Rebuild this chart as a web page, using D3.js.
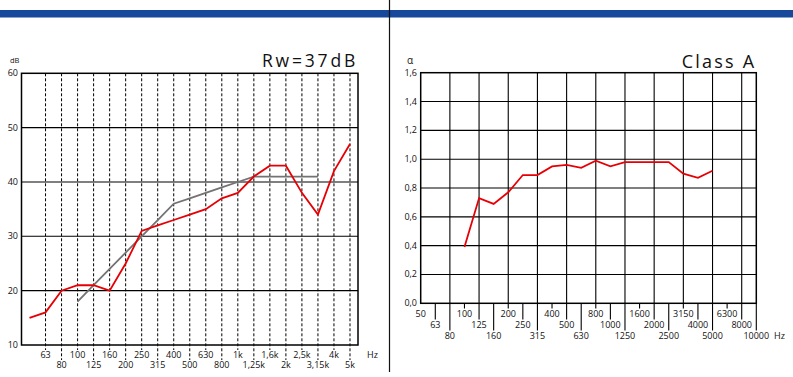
<!DOCTYPE html>
<html lang="en">
<head>
  <meta charset="UTF-8">
  <title>Rw / alpha</title>
  <script src="https://d3js.org/d3.v7.min.js"></script>
  <style>
    * { margin: 0; padding: 0; box-sizing: border-box; }
    body { background: #fff; font-family: "Open Sans", Arial, sans-serif; }
    svg text { fill: #111; }
  </style>
</head>
<body>
  <div id="chart"></div>

  <script>
    // sound insulation (left)
    const rwFreqs = ["50","63","80","100","125","160","200","250","315","400","500","630","800","1k","1,25k","1,6k","2k","2,5k","3,15k","4k","5k"];
    const rwMeasured = [15,16,20,21,21,20,25,31,32,33,34,35,37,38,41,43,43,38,34,42,47];
    const refFreqs = ["100","125","160","200","250","315","400","500","630","800","1k","1,25k","1,6k","2k","2,5k","3,15k"];
    const refValues = [18,21,24,27,30,33,36,37,38,39,40,41,41,41,41,41];
    const dbTicks = [10,20,30,40,50,60];

    // sound absorption (right)
    const alphaFreqs = ["50","63","80","100","125","160","200","250","315","400","500","630","800","1000","1250","1600","2000","2500","3150","4000","5000","6300","8000","10000"];
    const alphaFreqsMeasured = ["100","125","160","200","250","315","400","500","630","800","1000","1250","1600","2000","2500","3150","4000","5000"];
    const alphaValues = [0.39,0.73,0.69,0.77,0.89,0.89,0.95,0.96,0.94,0.99,0.95,0.98,0.98,0.98,0.98,0.90,0.87,0.92];
    const alphaTicks = [0,0.2,0.4,0.6,0.8,1.0,1.2,1.4,1.6];

    const W = 793, H = 377;
    const svg = d3.select("#chart").append("svg")
      .attr("width", W).attr("height", H);

    // header band and separator
    svg.append("rect")
       .attr("x", 0).attr("y", 10).attr("width", W).attr("height", 7.5)
       .attr("fill", "#17489b");
    svg.append("line")
       .attr("x1", 389.5).attr("x2", 389.5).attr("y1", 0).attr("y2", 372)
       .attr("stroke", "#111").attr("stroke-width", 1.2);

    const redLine = "#e60005";

    // ---------- left chart ----------
    const L = {left: 21.5, right: 358, top: 73.3, bottom: 345};

    const xL = d3.scalePoint()
                 .domain(rwFreqs)
                 .range([L.left, L.right])
                 .padding(0.5);
    const yL = d3.scaleLinear()
                 .domain([10, 60])
                 .range([L.bottom, L.top]);

    const left = svg.append("g");

    left.selectAll(".hgrid")
        .data(dbTicks.filter(d => d > 10 && d < 60))
        .enter().append("line")
        .attr("x1", L.left).attr("x2", L.right)
        .attr("y1", d => yL(d)).attr("y2", d => yL(d))
        .attr("stroke", "#000").attr("stroke-width", 1.1);

    left.selectAll(".vgrid")
        .data(rwFreqs.slice(1))
        .enter().append("line")
        .attr("x1", d => xL(d)).attr("x2", d => xL(d))
        .attr("y1", L.top)
        .attr("y2", (d, i) => i % 2 === 0 ? 350 : 360)
        .attr("stroke", "#000").attr("stroke-width", 1)
        .attr("stroke-dasharray", "3,2");

    left.append("rect")
        .attr("x", L.left).attr("y", L.top)
        .attr("width", L.right - L.left).attr("height", L.bottom - L.top)
        .attr("fill", "none").attr("stroke", "#000").attr("stroke-width", 1.5);

    left.selectAll(".ylab")
        .data(dbTicks)
        .enter().append("text")
        .attr("x", 18).attr("y", d => yL(d) + 3)
        .attr("text-anchor", "end")
        .style("font-size", "9px")
        .text(d => d);

    left.selectAll(".xlab")
        .data(rwFreqs.slice(1))
        .enter().append("text")
        .attr("x", d => xL(d))
        .attr("y", (d, i) => i % 2 === 0 ? 357.5 : 368)
        .attr("text-anchor", "middle")
        .style("font-size", "9px")
        .text(d => d);

    left.append("text").attr("x", 367).attr("y", 357.5)
        .style("font-size", "9px").text("Hz");
    left.append("text").attr("x", 10).attr("y", 62.5)
        .style("font-size", "7.5px").text("dB");
    left.append("text").attr("x", L.right).attr("y", 67)
        .attr("text-anchor", "end")
        .style("font-size", "17.5px").style("letter-spacing", "2.8px")
        .text("Rw=37dB");

    const lineL = d3.line().x(d => xL(d[0])).y(d => yL(d[1]));

    left.append("path")
        .datum(d3.zip(refFreqs, refValues))
        .attr("d", lineL)
        .attr("fill", "none").attr("stroke", "#737373").attr("stroke-width", 1.8);
    left.append("path")
        .datum(d3.zip(rwFreqs, rwMeasured))
        .attr("d", lineL)
        .attr("fill", "none").attr("stroke", redLine).attr("stroke-width", 1.8);

    // ---------- right chart ----------
    const R = {left: 420.7, right: 756.3, top: 72.7, bottom: 303.3};

    const xR = d3.scalePoint()
                 .domain(alphaFreqs)
                 .range([R.left, R.right]);
    const yR = d3.scaleLinear()
                 .domain([0, 1.6])
                 .range([R.bottom, R.top]);

    const right = svg.append("g");

    right.selectAll(".hgrid")
         .data(alphaTicks.slice(1, -1))
         .enter().append("line")
         .attr("x1", R.left).attr("x2", R.right)
         .attr("y1", d => yR(d)).attr("y2", d => yR(d))
         .attr("stroke", "#000").attr("stroke-width", 1.1);

    right.selectAll(".vgrid")
         .data(alphaFreqs.filter((d, i) => i % 2 === 0 && i > 0 && i < alphaFreqs.length - 1))
         .enter().append("line")
         .attr("x1", d => xR(d)).attr("x2", d => xR(d))
         .attr("y1", R.top).attr("y2", R.bottom)
         .attr("stroke", "#000").attr("stroke-width", 1.1);

    const tickEnd = [308.5, 319.5, 330.5];
    const labelY = [316.5, 327.5, 338.5];

    right.selectAll(".tick")
         .data(alphaFreqs.slice(1))
         .enter().append("line")
         .attr("x1", d => xR(d)).attr("x2", d => xR(d))
         .attr("y1", R.bottom)
         .attr("y2", (d, i) => tickEnd[(i + 1) % 3])
         .attr("stroke", "#000").attr("stroke-width", 1.1);

    right.append("rect")
         .attr("x", R.left).attr("y", R.top)
         .attr("width", R.right - R.left).attr("height", R.bottom - R.top)
         .attr("fill", "none").attr("stroke", "#000").attr("stroke-width", 1.5);

    right.selectAll(".ylab")
         .data(alphaTicks)
         .enter().append("text")
         .attr("x", 417).attr("y", d => yR(d) + 3)
         .attr("text-anchor", "end")
         .style("font-size", "9px")
         .text(d => d.toFixed(1).replace(".", ","));

    right.selectAll(".xlab")
         .data(alphaFreqs)
         .enter().append("text")
         .attr("x", d => xR(d))
         .attr("y", (d, i) => labelY[i % 3])
         .attr("text-anchor", "middle")
         .style("font-size", "9px")
         .text(d => d);

    right.append("text").attr("x", 774).attr("y", 338.5)
         .style("font-size", "9px").text("Hz");
    right.append("text").attr("x", 407).attr("y", 64)
         .style("font-size", "10px").text("α");
    right.append("text").attr("x", R.right).attr("y", 67.5)
         .attr("text-anchor", "end")
         .style("font-size", "18px").style("letter-spacing", "2.2px")
         .text("Class A");

    const lineR = d3.line().x(d => xR(d[0])).y(d => yR(d[1]));

    right.append("path")
         .datum(d3.zip(alphaFreqsMeasured, alphaValues))
         .attr("d", lineR)
         .attr("fill", "none").attr("stroke", redLine).attr("stroke-width", 1.8);
  </script>
</body>
</html>
